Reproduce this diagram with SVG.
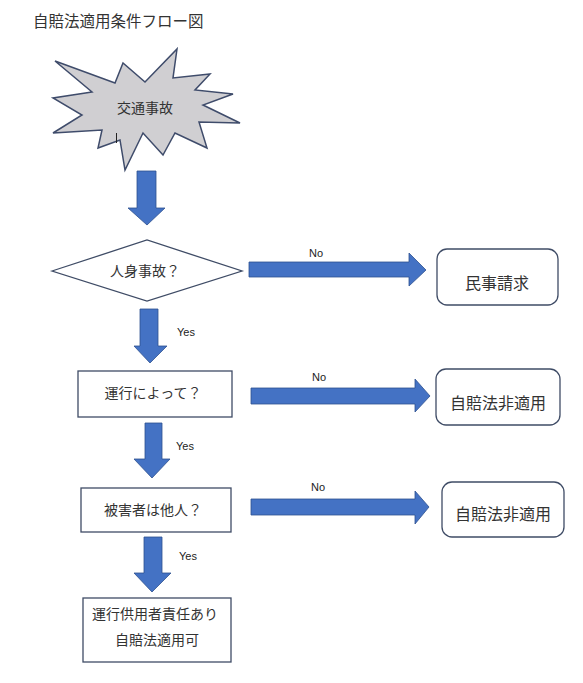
<svg xmlns="http://www.w3.org/2000/svg" width="583" height="683" viewBox="0 0 583 683">
<style>
.jp{font-family:"Liberation Serif","Noto Sans CJK JP",serif;fill:#333;}
.lbl{font-family:"Liberation Sans",Arial,sans-serif;font-size:11px;fill:#222;}
.box{fill:#fff;stroke:#3f4c66;stroke-width:1.3;}
.arr{fill:#4472c4;stroke:#2f528f;stroke-width:0.8;}
</style>
<rect width="583" height="683" fill="#fff"/>
<text class="jp" x="33" y="27" font-size="15.5">自賠法適用条件フロー図</text>

<g id="start">
<polygon points="55,61 115,83 123,63 145,82 177,49 173,78 210,74 195,90 233,94 203,105 240,123 199,122 207,148 175,133 163,155 143,133 125,170 120,140 98,148 102,130 53,133 82,115 53,98 92,92" fill="#d0cfd2" stroke="#3f4c6b" stroke-width="1.5" stroke-linejoin="miter"/>
<text class="jp" x="145" y="113" font-size="14" text-anchor="middle">交通事故</text>
<line x1="116.5" y1="133" x2="116.5" y2="143" stroke="#222" stroke-width="1"/>
</g>

<g id="q1">
<polygon class="box" points="52,271 147,240 242,271 147,301"/>
<text class="jp" x="145" y="276" font-size="14" text-anchor="middle">人身事故？</text>
</g>

<g id="civil">
<rect class="box" x="437" y="249" width="121" height="56" rx="10"/>
<text class="jp" x="497" y="289" font-size="16" text-anchor="middle">民事請求</text>
</g>

<g id="q2">
<rect class="box" x="78" y="371" width="154" height="46"/>
<text class="jp" x="153" y="398" font-size="14" text-anchor="middle">運行によって？</text>
</g>

<g id="na1">
<rect class="box" x="436" y="369" width="124" height="56" rx="10"/>
<text class="jp" x="498" y="409" font-size="16" text-anchor="middle">自賠法非適用</text>
</g>

<g id="q3">
<rect class="box" x="81" y="488" width="150" height="44"/>
<text class="jp" x="153" y="515" font-size="14" text-anchor="middle">被害者は他人？</text>
</g>

<g id="na2">
<rect class="box" x="442" y="482" width="122" height="55" rx="10"/>
<text class="jp" x="503" y="520" font-size="16" text-anchor="middle">自賠法非適用</text>
</g>

<g id="result">
<rect class="box" x="83" y="598" width="148" height="64"/>
<text class="jp" x="155" y="619" font-size="14" text-anchor="middle">運行供用者責任あり</text>
<text class="jp" x="157" y="645" font-size="14" text-anchor="middle">自賠法適用可</text>
</g>

<g id="connectors">
<polygon class="arr" points="137,171 156,171 156,208 165,208 147,225 128,208 137,208"/>
<polygon class="arr" points="249,262 409,262 409,253 426,270 409,286 409,277 249,277"/>
<text class="lbl" x="316" y="257" text-anchor="middle">No</text>
<polygon class="arr" points="140,309 158,309 158,346 167,346 150,363 134,346 140,346"/>
<text class="lbl" x="177" y="336">Yes</text>
<polygon class="arr" points="251,388 415,388 415,379 430,396 415,412 415,404 251,404"/>
<text class="lbl" x="319" y="381" text-anchor="middle">No</text>
<polygon class="arr" points="145,423 162,423 162,459 170,459 152,478 134,459 145,459"/>
<text class="lbl" x="176" y="450">Yes</text>
<polygon class="arr" points="251,499 415,499 415,491 429,507 415,524 415,515 251,515"/>
<text class="lbl" x="318" y="491" text-anchor="middle">No</text>
<polygon class="arr" points="144,537 162,537 162,573 171,573 152,592 134,573 144,573"/>
<text class="lbl" x="179" y="560">Yes</text>
</g>
</svg>
